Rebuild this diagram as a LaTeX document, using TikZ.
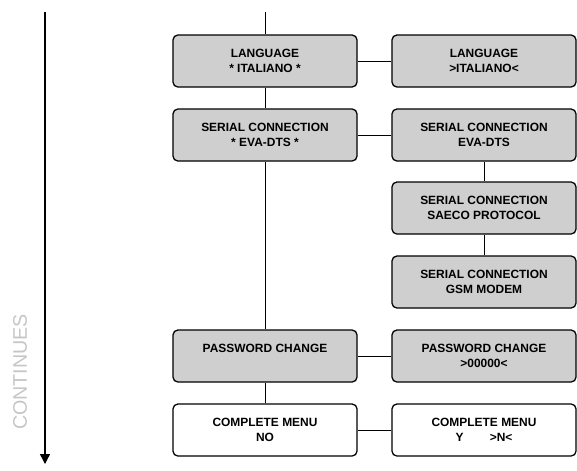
\documentclass[tikz,border=0pt]{standalone}
\usepackage{fontspec}
\setmainfont{Liberation Sans}
\usetikzlibrary{arrows.meta}

\begin{document}
\begin{tikzpicture}[x=0.025cm, y=-0.025cm,
		menu/.style={draw, line width=0.9pt, rounded corners=3.5pt, fill=gray!38,
			minimum width=4.6cm, minimum height=1.3cm, align=center,
			font=\fontsize{8.5}{10.5}\selectfont\bfseries},
		menu off/.style={menu, fill=white},
		link/.style={line width=0.7pt}]
			\useasboundingbox (0,0) rectangle (577,470);
			\node[menu] (lang) at (265,61) {LANGUAGE\\* ITALIANO *};
			\node[menu] (langsel) at (484,61) {LANGUAGE\\>ITALIANO<};
			\node[menu] (serial) at (265,135) {SERIAL CONNECTION\\* EVA-DTS *};
			\node[menu] (serialeva) at (484,135) {SERIAL CONNECTION\\EVA-DTS};
			\node[menu] (serialsaeco) at (484,208) {SERIAL CONNECTION\\SAECO PROTOCOL};
			\node[menu] (serialgsm) at (484,282) {SERIAL CONNECTION\\GSM MODEM};
			\node[menu] (pwd) at (265,356) {PASSWORD CHANGE\\~};
			\node[menu] (pwdsel) at (484,356) {PASSWORD CHANGE\\>00000<};
			\node[menu off] (full) at (265,430) {COMPLETE MENU\\NO};
			\node[menu off] (fullsel) at (484,430) {COMPLETE MENU\\Y\hspace{2.2em}>N<};
			\coordinate (top) at (265,12);
			\coordinate (flowtop) at (45,12);
			\coordinate (flowend) at (45,464);
			\draw[link] (top) -- (lang);
			\draw[link] (lang) -- (serial);
			\draw[link] (serial) -- (pwd);
			\draw[link] (pwd) -- (full);
			\draw[link] (lang) -- (langsel);
			\draw[link] (serial) -- (serialeva);
			\draw[link] (serialeva) -- (serialsaeco);
			\draw[link] (serialsaeco) -- (serialgsm);
			\draw[link] (pwd) -- (pwdsel);
			\draw[link] (full) -- (fullsel);
			\draw[line width=0.9pt, -{Triangle[width=7pt, length=7pt]}] (flowtop) -- (flowend);
			\node[rotate=90, text=gray!45, font=\fontsize{14}{14}\selectfont] (cont) at (20,372) {CONTINUES};
\end{tikzpicture}
\end{document}
